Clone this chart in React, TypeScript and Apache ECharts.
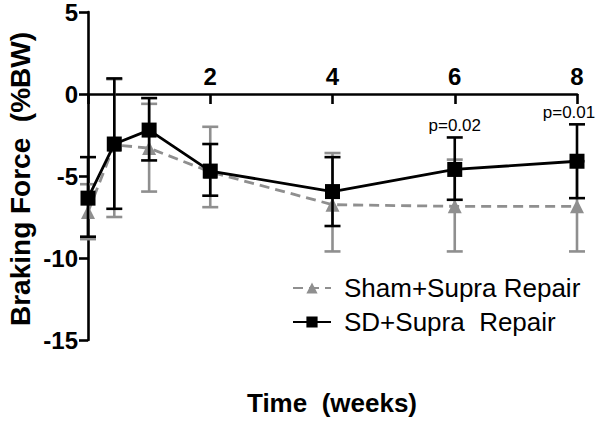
import React, { useEffect, useRef } from "react";
import * as echarts from "echarts";

const weeks = [0, 0.43, 1, 2, 4, 6, 8];
const xTicks = [2, 4, 6, 8];
const yTicks = [-15, -10, -5, 0, 5];

const shamName = "Sham+Supra Repair";
const shamMean = [-7.2, -3.1, -3.3, -4.75, -6.75, -6.85, -6.85];
const shamLow = [-8.85, -7.5, -5.95, -6.9, -9.6, -9.6, -9.6];
const shamHigh = [-5.5, 0.9, -0.6, -2.0, -3.6, -4.0, -4.1];

const sdName = "SD+Supra  Repair";
const sdMean = [-6.35, -3.05, -2.2, -4.7, -5.95, -4.6, -4.1];
const sdLow = [-8.7, -7.0, -4.05, -6.2, -8.05, -6.45, -6.35];
const sdHigh = [-3.85, 0.95, -0.25, -3.05, -3.85, -2.65, -1.85];
const sdPValues = ["", "", "", "", "", "p=0.02", "p=0.01"];

const FONT = "'Liberation Sans', Arial, sans-serif";
const GRAY = "#8f8f8f";

function errorSeries(low: number[], high: number[], color: string, notes: string[] | null) {
  return {
    type: "custom",
    z: color === GRAY ? 1 : 3,
    clip: false,
    encode: { x: 0, y: [1, 2] },
    data: weeks.map((w, i) => [w, low[i], high[i], i]),
    renderItem: (params: any, api: any) => {
      const x = api.value(0);
      const lo = api.coord([x, api.value(1)]);
      const hi = api.coord([x, api.value(2)]);
      const idx = api.value(3);
      const half = 8;
      const style = { stroke: color, lineWidth: 2.6 };
      const children: any[] = [
        { type: "line", shape: { x1: lo[0], y1: lo[1], x2: hi[0], y2: hi[1] }, style },
        { type: "line", shape: { x1: lo[0] - half, y1: lo[1], x2: lo[0] + half, y2: lo[1] }, style },
        { type: "line", shape: { x1: hi[0] - half, y1: hi[1], x2: hi[0] + half, y2: hi[1] }, style },
      ];
      if (notes && notes[idx]) {
        const cs = params.coordSys;
        children.push({
          type: "text",
          x: Math.min(hi[0], cs.x + cs.width - 8),
          y: hi[1] - 3,
          style: {
            text: notes[idx],
            fill: "#000",
            fontSize: 17,
            fontFamily: FONT,
            textAlign: "center",
            textVerticalAlign: "bottom",
          },
        });
      }
      return { type: "group", children };
    },
  };
}

export default function App() {
  const ref = useRef<HTMLDivElement>(null);
  useEffect(() => {
    if (!ref.current) return;
    const chart = echarts.init(ref.current, null, { renderer: "svg" });
    chart.setOption({
      animation: false,
      backgroundColor: "#fff",
      grid: { left: 88, right: 23, top: 10, height: 330, containLabel: false },
      legend: {
        orient: "vertical",
        left: 287,
        top: 270,
        itemWidth: 38,
        itemHeight: 14,
        itemGap: 8,
        data: [shamName, sdName],
        textStyle: { fontSize: 26, color: "#000", fontFamily: FONT, padding: [0, 0, 0, 8] },
      },
      xAxis: {
        type: "value",
        min: 0,
        max: 8,
        interval: 2,
        axisLine: { onZero: true, lineStyle: { color: "#000", width: 2.6 } },
        axisTick: { show: true, inside: false, length: 10, lineStyle: { color: "#000", width: 2.6 } },
        axisLabel: { show: false },
        splitLine: { show: false },
      },
      yAxis: {
        type: "value",
        min: yTicks[0],
        max: yTicks[yTicks.length - 1],
        interval: 5,
        axisLine: { show: true, lineStyle: { color: "#000", width: 2.6 } },
        axisTick: { show: true, length: 9, lineStyle: { color: "#000", width: 2.6 } },
        axisLabel: {
          margin: 10,
          fontSize: 24,
          fontWeight: "bold",
          color: "#000",
          fontFamily: FONT,
        },
        splitLine: { show: false },
      },
      series: [
        errorSeries(shamLow, shamHigh, GRAY, null),
        {
          name: shamName,
          type: "line",
          z: 2,
          data: weeks.map((w, i) => [w, shamMean[i]]),
          symbol: "triangle",
          symbolSize: 14,
          itemStyle: { color: GRAY },
          lineStyle: { color: GRAY, width: 2.8, type: [10, 6] },
        },
        errorSeries(sdLow, sdHigh, "#000", sdPValues),
        {
          name: sdName,
          type: "line",
          z: 4,
          data: weeks.map((w, i) => [w, sdMean[i]]),
          symbol: "rect",
          symbolSize: 15,
          itemStyle: { color: "#000" },
          lineStyle: { color: "#000", width: 2.8 },
        },
        {
          type: "scatter",
          silent: true,
          z: 5,
          symbolSize: 0,
          itemStyle: { color: "#000", opacity: 1 },
          data: xTicks.map((v) => [v, 0]),
          label: {
            show: true,
            position: "top",
            distance: 6,
            formatter: (p: any) => String(p.value[0]),
            fontSize: 24,
            fontWeight: "bold",
            color: "#000",
            opacity: 1,
            textBorderWidth: 0,
            fontFamily: FONT,
          },
        },
      ],
      graphic: [
        {
          type: "text",
          x: 332,
          y: 403,
          style: {
            text: "Time  (weeks)",
            fontSize: 26,
            fontWeight: "bold",
            fontFamily: FONT,
            fill: "#000",
            textAlign: "center",
            textVerticalAlign: "middle",
          },
        },
        {
          type: "text",
          x: 20,
          y: 179,
          rotation: Math.PI / 2,
          style: {
            text: "Braking Force  (%BW)",
            fontSize: 28,
            fontWeight: "bold",
            fontFamily: FONT,
            fill: "#000",
            textAlign: "center",
            textVerticalAlign: "middle",
          },
        },
      ],
    });
    return () => chart.dispose();
  }, []);
  return (
    <div
      ref={ref}
      style={{ position: "absolute", left: 0, top: 0, width: 600, height: 421 }}
    />
  );
}
